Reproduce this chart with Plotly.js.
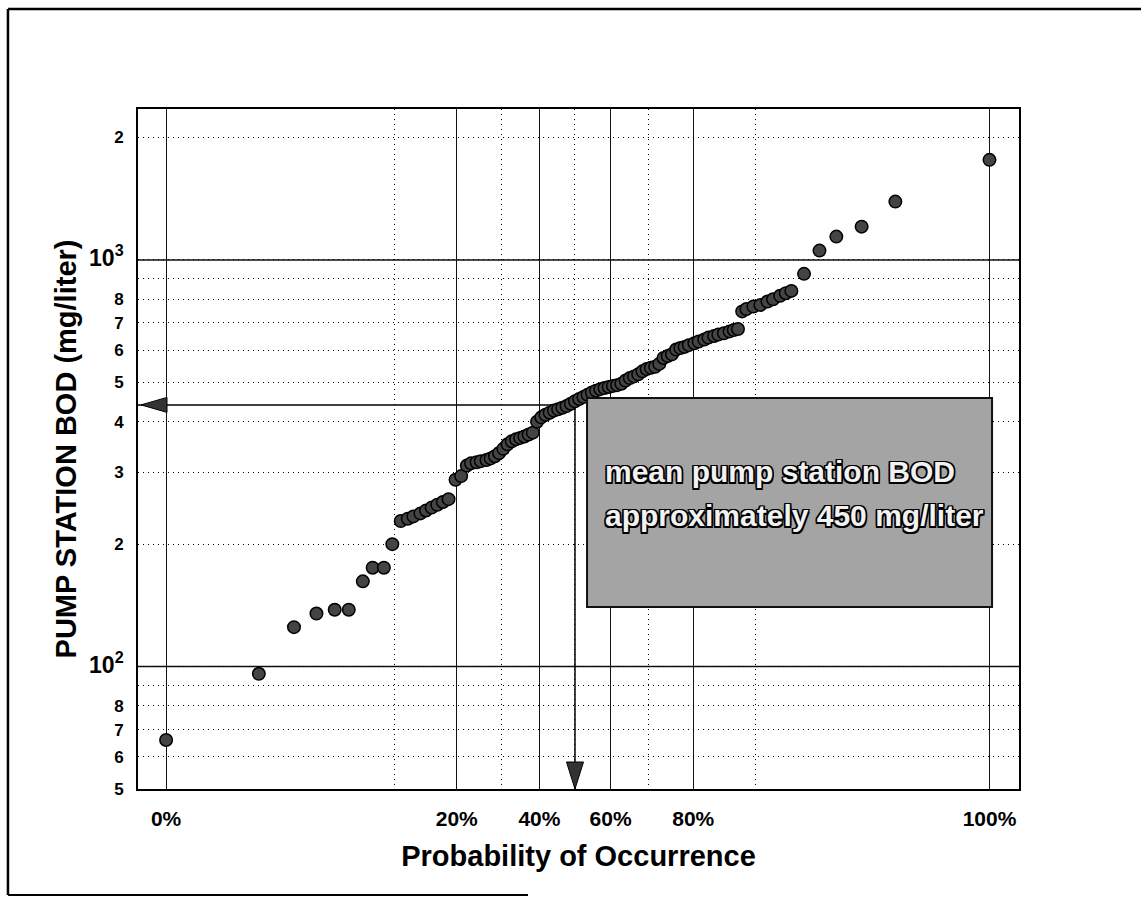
<!DOCTYPE html>
<html><head><meta charset="utf-8">
<script src="https://cdn.plot.ly/plotly-3.0.1.min.js"></script>
<style>html,body{margin:0;padding:0;background:#fff;}#chart{width:1141px;height:897px;}</style>
</head><body><div id="chart"></div>
<script>
// Normal scores (probability-paper x positions) and BOD values
const normalScore = [-2.91,-2.25,-2.00,-1.84,-1.71,-1.61,-1.51,-1.44,-1.36,-1.30,
 -1.24,-1.19,-1.15,-1.10,-1.06,-1.02,-0.98,-0.94,-0.90,
 -0.85,-0.81,-0.77,-0.74,-0.70,-0.67,-0.63,-0.60,-0.57,-0.54,-0.51,
 -0.48,-0.45,-0.42,-0.39,-0.36,-0.33,-0.30,
 -0.27,-0.24,-0.21,-0.18,-0.15,-0.12,-0.09,-0.06,-0.03,
 0.00,0.03,0.06,0.09,0.12,0.15,0.18,0.21,0.24,0.27,0.30,0.33,0.36,0.39,0.42,0.45,0.48,0.51,0.54,0.57,0.60,0.63,0.66,0.69,0.72,0.75,0.78,0.81,
 0.85,0.88,0.92,0.95,0.99,1.02,1.06,1.10,1.13,1.16,
 1.19,1.22,1.27,1.32,1.37,1.41,1.46,1.50,1.54,
 1.63,1.74,1.86,2.04,2.28,2.95];
const bodValues = [66,96,125,135,138,138,162,175,175,200,
 228,231,234,238,242,246,250,254,258,
 288,294,312,316,318,320,322,325,329,335,343,
 352,358,362,365,368,372,376,
 400,410,416,421,426,429,433,437,443,
 449,455,460,466,472,477,481,484,487,490,492,496,505,512,517,523,532,539,543,546,555,574,580,586,602,607,611,617,
 624,630,637,644,650,655,660,667,672,676,
 747,757,768,775,790,800,816,828,839,
 924,1054,1141,1207,1391,1762];

const xTickVals = [-2.91,-0.8416,-0.2533,0.2533,0.8416,2.95];
const xTickText = ['0%','20%','40%','60%','80%','100%'];
const xDottedVals = [-1.2816,-0.5244,0,0.5244,1.2816];
const yTickVals = [50,60,70,80,100,200,300,400,500,600,700,800,1000,2000];
const BIG = s => '<span style="font-size:23px">' + s + '</span>';
const yTickText = ['5','6','7','8',BIG('10<sup>2</sup>'),'2','3','4','5','6','7','8',BIG('10<sup>3</sup>'),'2'];
const yUnlabeledGrid = [90,900];
const ySolidVals = [100,1000];
const meanScore = 0;
const meanBOD = 440;
const annotLines = ['mean pump station BOD','approximately 450 mg/liter'];

const xRange = [-3.11, 3.16];
const yRange = [Math.log10(50), 3.371];
const FONT = '"Liberation Sans", Arial, Helvetica, sans-serif';

const trace = {
  type:'scatter', mode:'markers', x:normalScore, y:bodValues,
  marker:{size:12.5, color:'#444', line:{color:'#000', width:1.5}},
  hoverinfo:'skip'
};

const shapes = [];
ySolidVals.forEach(v => shapes.push({type:'line', xref:'paper', x0:0, x1:1, yref:'y', y0:v, y1:v,
  line:{color:'#111', width:1.5}, layer:'below'}));
// mean guide lines
shapes.push({type:'line', xref:'x', x0:xRange[0], x1:meanScore, yref:'y', y0:meanBOD, y1:meanBOD,
  line:{color:'#000', width:1.5}, layer:'below'});
shapes.push({type:'line', xref:'x', x0:meanScore, x1:meanScore, yref:'y', y0:meanBOD, y1:50,
  line:{color:'#000', width:1.5}, layer:'below'});
// arrowheads
shapes.push({type:'path', xref:'x', xsizemode:'pixel', xanchor:xRange[0], yref:'y', ysizemode:'pixel', yanchor:meanBOD,
  path:'M3,0 L29,7.5 L29,-7.5 Z', fillcolor:'#333', line:{color:'#000', width:1}, layer:'above'});
shapes.push({type:'path', xref:'x', xsizemode:'pixel', xanchor:meanScore, yref:'paper', ysizemode:'pixel', yanchor:0,
  path:'M0,0 L-8.5,27 L8.5,27 Z', fillcolor:'#333', line:{color:'#000', width:1}, layer:'above'});
// annotation box
shapes.push({type:'rect', xref:'paper', yref:'paper', x0:0.5097, x1:0.9694, y0:0.2676, y1:0.575,
  fillcolor:'#a4a4a4', line:{color:'#111', width:2}, layer:'above'});
// outer page frame
shapes.push({type:'line', xref:'paper', yref:'paper', x0:-0.1476, x1:-0.1476, y0:-0.1559, y1:1.147, line:{color:'#000', width:2.5}});
shapes.push({type:'line', xref:'paper', yref:'paper', x0:-0.1476, x1:1.14, y0:1.147, y1:1.147, line:{color:'#000', width:2.5}});
shapes.push({type:'line', xref:'paper', yref:'paper', x0:-0.1476, x1:0.4427, y0:-0.1559, y1:-0.1559, line:{color:'#000', width:2}});

const outline = '-1.5px -1.5px 0 #000, 1.5px -1.5px 0 #000, -1.5px 1.5px 0 #000, 1.5px 1.5px 0 #000, 0 1.5px 0 #000, 0 -1.5px 0 #000, 1.5px 0 0 #000, -1.5px 0 0 #000';
const annotations = annotLines.map((t, i) => ({
  xref:'paper', yref:'paper', x:0.5278, y:[0.4662, 0.4029][i], xanchor:'left', yanchor:'middle',
  text:t, showarrow:false,
  font:{family:FONT, size:30, weight:'bold', color:'#f2f2f2', shadow:outline}
}));

const layout = {
  width:1141, height:897,
  margin:{l:138, r:122, t:109, b:108, pad:0},
  paper_bgcolor:'#fff', plot_bgcolor:'#fff', showlegend:false,
  font:{family:FONT, color:'#000'},
  xaxis:{
    range:xRange, zeroline:false, tickmode:'array', tickvals:xTickVals, ticktext:xTickText,
    showgrid:true, gridcolor:'#111', gridwidth:1,
    showline:true, linecolor:'#000', linewidth:2, mirror:true,
    ticks:'', ticklabelstandoff:10, tickfont:{family:FONT, size:21, weight:'bold'},
    minor:{tickmode:'array', tickvals:xDottedVals, showgrid:true, gridcolor:'#000', griddash:'1px,4px', gridwidth:1, ticks:''},
    title:{text:'Probability of Occurrence', font:{family:FONT, size:29, weight:'bold'}, standoff:16}
  },
  yaxis:{
    type:'log', range:yRange, tickmode:'array', tickvals:yTickVals, ticktext:yTickText,
    showgrid:true, gridcolor:'#000', griddash:'1px,4px', gridwidth:1,
    showline:true, linecolor:'#000', linewidth:2, mirror:true,
    ticks:'', ticklabelstandoff:9, tickfont:{family:FONT, size:17, weight:'bold'},
    minor:{tickmode:'array', tickvals:yUnlabeledGrid, showgrid:true, gridcolor:'#000', griddash:'1px,4px', gridwidth:1, ticks:''},
    title:{text:'PUMP STATION BOD (mg/liter)', font:{family:FONT, size:29, weight:'bold'}, standoff:4}
  },
  shapes:shapes,
  annotations:annotations
};

Plotly.newPlot('chart', [trace], layout, {staticPlot:true, displayModeBar:false});
</script>
</body></html>
